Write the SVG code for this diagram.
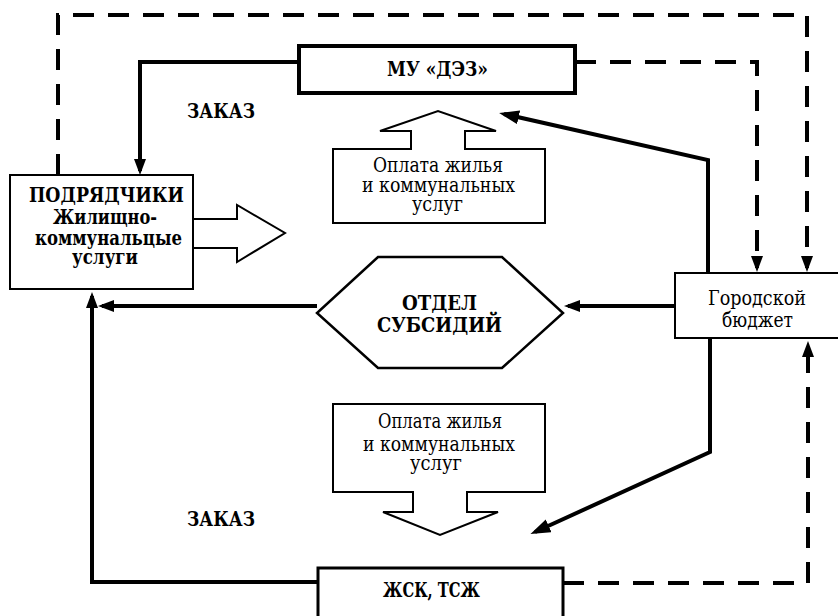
<svg xmlns="http://www.w3.org/2000/svg" width="838" height="616" viewBox="0 0 838 616">
  <style>
    .box { fill: #fff; stroke: #000; }
    .t { font-family: 'DejaVu Serif', 'Liberation Serif', serif; font-size: 20px; fill: #000; }
    .b { font-weight: bold; }
    .solid { fill: none; stroke: #000; stroke-width: 4; stroke-linejoin: miter; }
    .dash { fill: none; stroke: #000; stroke-width: 4; stroke-dasharray: 21 14; }
  </style>
  <defs>
    <marker id="arr" markerUnits="userSpaceOnUse" markerWidth="16" markerHeight="12" refX="12" refY="6" orient="auto">
      <path d="M0,0 L16,6 L0,12 z" fill="#000"/>
    </marker>
    <marker id="arrBig" markerUnits="userSpaceOnUse" markerWidth="20" markerHeight="14" refX="15" refY="7" orient="auto">
      <path d="M0,0 L20,7 L0,14 z" fill="#000"/>
    </marker>
  </defs>
  <rect width="838" height="616" fill="#fff"/>

  <!-- connectors -->
  <g id="connectors">
    <!-- solid flows -->
    <path class="solid" d="M299,62 H140 V171" marker-end="url(#arr)"/>
    <path class="solid" d="M708,273 V160 L504,114" marker-end="url(#arrBig)"/>
    <path class="solid" d="M710,338 V452 L535,532" marker-end="url(#arrBig)"/>
    <path class="solid" d="M675,306 H568" marker-end="url(#arr)"/>
    <path class="solid" d="M317,306 H102" marker-end="url(#arr)"/>
    <path class="solid" d="M318,582 H92 V296" marker-end="url(#arr)"/>
    <!-- dashed flows into the city budget -->
    <path class="dash" d="M575,62 H757 V268" marker-end="url(#arr)"/>
    <path class="dash" d="M58,175 V15 H807 V268" marker-end="url(#arr)"/>
    <path class="dash" d="M563,583 H808 V345" marker-end="url(#arr)"/>
  </g>

  <!-- МУ «ДЭЗ» -->
  <g id="dez">
    <rect class="box" x="299" y="46" width="276" height="47" stroke-width="4"/>
    <text class="t b" x="387" y="76" textLength="101" lengthAdjust="spacingAndGlyphs">МУ «ДЭЗ»</text>
  </g>

  <!-- Подрядчики -->
  <g id="contractors">
    <rect class="box" x="10" y="175" width="183" height="114" stroke-width="2"/>
    <text class="t b" lengthAdjust="spacingAndGlyphs">
      <tspan x="29" y="202" textLength="155" lengthAdjust="spacingAndGlyphs">ПОДРЯДЧИКИ</tspan>
      <tspan x="53" y="224" textLength="104" lengthAdjust="spacingAndGlyphs">Жилищно-</tspan>
      <tspan x="35" y="245" textLength="147" lengthAdjust="spacingAndGlyphs">коммунальцые</tspan>
      <tspan x="72" y="264" textLength="66" lengthAdjust="spacingAndGlyphs">услуги</tspan>
    </text>
    <polygon class="box" stroke-width="2" points="193,219 237,219 237,205 285,233 237,262 237,248 193,248"/>
  </g>

  <!-- Оплата жилья (вверх) -->
  <g id="payment-up">
    <polygon class="box" stroke-width="2" points="333,149 411,149 411,131 380,131 438,111 496,131 465,131 465,149 545,149 545,223 333,223"/>
    <text class="t">
      <tspan x="373" y="172" textLength="130" lengthAdjust="spacingAndGlyphs">Оплата жилья</tspan>
      <tspan x="362" y="192" textLength="153" lengthAdjust="spacingAndGlyphs">и коммунальных</tspan>
      <tspan x="412" y="211" textLength="51" lengthAdjust="spacingAndGlyphs">услуг</tspan>
    </text>
  </g>

  <g id="order-labels">
    <text class="t b" x="187" y="118" textLength="68" lengthAdjust="spacingAndGlyphs">ЗАКАЗ</text>
    <text class="t b" x="187" y="526" textLength="68" lengthAdjust="spacingAndGlyphs">ЗАКАЗ</text>
  </g>

  <!-- Отдел субсидий -->
  <g id="subsidy">
    <polygon class="box" stroke-width="2.5" points="378,257 502,257 563,313 502,368 378,368 317,313"/>
    <text class="t b">
      <tspan x="402" y="310" textLength="75" lengthAdjust="spacingAndGlyphs">ОТДЕЛ</tspan>
      <tspan x="377" y="332" textLength="125" lengthAdjust="spacingAndGlyphs">СУБСИДИЙ</tspan>
    </text>
  </g>

  <!-- Городской бюджет -->
  <g id="budget">
    <rect class="box" x="675" y="273" width="170" height="65" stroke-width="2"/>
    <text class="t">
      <tspan x="708" y="305" textLength="98" lengthAdjust="spacingAndGlyphs">Городской</tspan>
      <tspan x="722" y="327" textLength="71" lengthAdjust="spacingAndGlyphs">бюджет</tspan>
    </text>
  </g>

  <!-- Оплата жилья (вниз) -->
  <g id="payment-down">
    <polygon class="box" stroke-width="2" points="333,404 545,404 545,492 467,492 467,512 498,512 440,535 383,512 413,512 413,492 333,492"/>
    <text class="t">
      <tspan x="378" y="428" textLength="124" lengthAdjust="spacingAndGlyphs">Оплата жилья</tspan>
      <tspan x="363" y="451" textLength="152" lengthAdjust="spacingAndGlyphs">и коммунальных</tspan>
      <tspan x="410" y="470" textLength="52" lengthAdjust="spacingAndGlyphs">услуг</tspan>
    </text>
  </g>

  <!-- ЖСК, ТСЖ -->
  <g id="hoa">
    <rect class="box" x="318" y="568" width="245" height="60" stroke-width="3"/>
    <text class="t b" x="383" y="597" textLength="97" lengthAdjust="spacingAndGlyphs">ЖСК, ТСЖ</text>
  </g>
</svg>
